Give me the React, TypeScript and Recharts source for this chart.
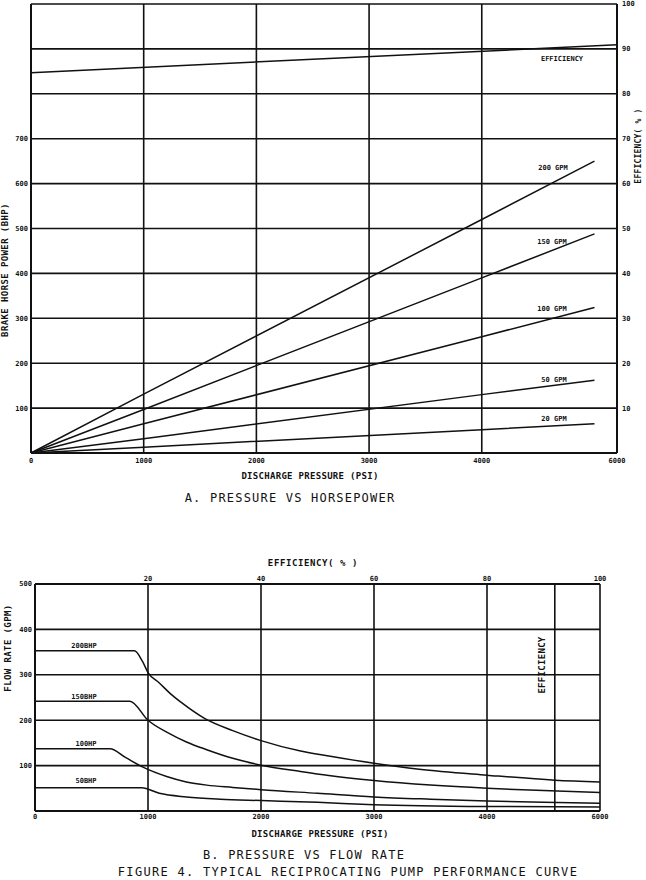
import { CartesianGrid, Line, LineChart, XAxis, YAxis } from "recharts"

const INK = "#111"
const MONO = "'DejaVu Sans Mono', monospace"

// A. pressure vs horsepower
const A_X_TICKS = [0, 1000, 2000, 3000, 4000, 5200]
const A_X_LABELS = ["0", "1000", "2000", "3000", "4000", "6000"]
const A_BHP_TICKS = [0, 100, 200, 300, 400, 500, 600, 700, 800, 900, 1000]
const A_EFF_TICKS = [0, 10, 20, 30, 40, 50, 60, 70, 80, 90, 100]

const A_PRESSURE = [0, 1000, 4000, 5000]
const BHP_200GPM = [0, 131, 520, 650]
const BHP_150GPM = [0, 97, 390, 488]
const BHP_100GPM = [0, 65, 259, 324]
const BHP_50GPM = [0, 32, 130, 162]
const BHP_20GPM = [0, 13, 52, 65]

const EFF_PRESSURE = [0, 5200]
const EFF_VALUES = [84.7, 90.9]

// B. pressure vs flow rate
const B_X_TICKS = [0, 1000, 2000, 3000, 4000, 5000]
const B_X_LABELS = ["0", "1000", "2000", "3000", "4000", "6000"]
const B_EFF_TICKS = [0, 20, 40, 60, 80, 100]
const B_GPM_TICKS = [0, 100, 200, 300, 400, 500]
const B_EFF_LINE_E = [92, 92]
const B_EFF_LINE_GPM = [0, 500]

const P_200BHP = [0, 880, 950, 1000, 1100, 1200, 1300, 1500, 1750, 2000, 2350, 2600, 3000, 3400, 4000, 4600, 5000]
const GPM_200BHP = [353, 353, 330, 305, 282, 258, 238, 204, 177, 155, 132, 121, 105, 92, 79, 68, 64]
const P_150BHP = [0, 840, 1000, 1170, 1340, 1520, 1750, 2000, 2350, 2600, 3000, 3500, 4000, 4500, 5000]
const GPM_150BHP = [242, 242, 200, 173, 152, 135, 116, 101, 87, 78, 67, 57, 50, 45, 41]
const P_100BHP = [0, 664, 800, 960, 1165, 1340, 1520, 1750, 2000, 2500, 3000, 3500, 4000, 4500, 5000]
const GPM_100BHP = [137, 137, 118, 96, 76, 64, 57, 52, 47, 39, 31, 26, 22, 19, 17]
const P_50BHP = [0, 944, 1100, 1340, 1640, 2000, 2500, 3000, 4000, 5000]
const GPM_50BHP = [51, 51, 39, 31, 26, 23, 19, 14, 10, 9]

const pts = (xs: number[], ys: number[]) => xs.map((p, i) => ({ p, v: ys[i] }))

const tickStyle = { fontSize: 7, fontWeight: 700, fill: INK, fontFamily: MONO }
const axisLine = { stroke: INK, strokeWidth: 2 }

function Txt({
  x,
  y,
  size = 7,
  bold = true,
  rotate = 0,
  spacing = 0,
  children,
}: {
  x: number
  y: number
  size?: number
  bold?: boolean
  rotate?: number
  spacing?: number
  children: string
}) {
  return (
    <div
      style={{
        position: "absolute",
        left: x,
        top: y,
        transform: `translate(-50%, -50%) rotate(${rotate}deg)`,
        fontFamily: MONO,
        fontSize: size,
        fontWeight: bold ? 700 : 400,
        letterSpacing: spacing,
        color: INK,
        whiteSpace: "nowrap",
        lineHeight: 1,
      }}
    >
      {children}
    </div>
  )
}

function HorsepowerChart() {
  const series = [
    { name: "200 GPM", data: BHP_200GPM },
    { name: "150 GPM", data: BHP_150GPM },
    { name: "100 GPM", data: BHP_100GPM },
    { name: "50 GPM", data: BHP_50GPM },
    { name: "20 GPM", data: BHP_20GPM },
  ]
  return (
    <div style={{ position: "absolute", left: 0, top: 0 }}>
      <LineChart width={646} height={470} margin={{ top: 4, right: 0, bottom: 0, left: 0 }}>
        <CartesianGrid stroke={INK} strokeWidth={1.6} yAxisId="bhp" />
        <XAxis
          dataKey="p"
          type="number"
          domain={[0, 5200]}
          ticks={A_X_TICKS}
          interval={0}
          height={17}
          tickLine={false}
          tickSize={0}
          tickMargin={5}
          axisLine={axisLine}
          tick={tickStyle}
          tickFormatter={(v) => A_X_LABELS[A_X_TICKS.indexOf(v)]}
        />
        <YAxis
          yAxisId="bhp"
          domain={[0, 1000]}
          ticks={A_BHP_TICKS}
          interval={0}
          width={31}
          tickLine={false}
          tickSize={0}
          tickMargin={3}
          axisLine={axisLine}
          tick={tickStyle}
          tickFormatter={(v) => (v > 0 && v <= 700 ? String(v) : "")}
        />
        <YAxis
          yAxisId="eff"
          orientation="right"
          domain={[0, 100]}
          ticks={A_EFF_TICKS}
          interval={0}
          width={29}
          tickLine={false}
          tickSize={0}
          tickMargin={5}
          axisLine={axisLine}
          tick={tickStyle}
          tickFormatter={(v) => (v === 0 ? "" : String(v))}
        />
        {series.map((s) => (
          <Line
            key={s.name}
            yAxisId="bhp"
            data={pts(A_PRESSURE, s.data)}
            dataKey="v"
            type="linear"
            stroke={INK}
            strokeWidth={1.5}
            dot={false}
            isAnimationActive={false}
          />
        ))}
        <Line
          yAxisId="eff"
          data={pts(EFF_PRESSURE, EFF_VALUES)}
          dataKey="v"
          type="linear"
          stroke={INK}
          strokeWidth={1.5}
          dot={false}
          isAnimationActive={false}
        />
      </LineChart>
    </div>
  )
}

function FlowChart() {
  const series = [
    { name: "200BHP", p: P_200BHP, v: GPM_200BHP },
    { name: "150BHP", p: P_150BHP, v: GPM_150BHP },
    { name: "100HP", p: P_100BHP, v: GPM_100BHP },
    { name: "50BHP", p: P_50BHP, v: GPM_50BHP },
  ]
  const effLine = B_EFF_LINE_E.map((e, i) => ({ e, v: B_EFF_LINE_GPM[i] }))
  return (
    <div style={{ position: "absolute", left: 0, top: 540 }}>
      <LineChart width={646} height={300} margin={{ top: 24, right: 46, bottom: 17, left: 0 }}>
        <CartesianGrid stroke={INK} strokeWidth={1.6} yAxisId="gpm" xAxisId="psi" />
        <XAxis
          xAxisId="psi"
          dataKey="p"
          type="number"
          domain={[0, 5000]}
          ticks={B_X_TICKS}
          interval={0}
          height={12}
          tickLine={false}
          tickSize={0}
          tickMargin={3}
          axisLine={axisLine}
          tick={tickStyle}
          tickFormatter={(v) => B_X_LABELS[B_X_TICKS.indexOf(v)]}
        />
        <XAxis
          xAxisId="eff"
          dataKey="e"
          orientation="top"
          type="number"
          domain={[0, 100]}
          ticks={B_EFF_TICKS}
          interval={0}
          height={20}
          tickLine={false}
          tickSize={0}
          tickMargin={3}
          axisLine={axisLine}
          tick={tickStyle}
          tickFormatter={(v) => (v === 0 ? "" : String(v))}
        />
        <YAxis
          yAxisId="gpm"
          domain={[0, 500]}
          ticks={B_GPM_TICKS}
          interval={0}
          width={35}
          tickLine={false}
          tickSize={0}
          tickMargin={3}
          axisLine={axisLine}
          tick={tickStyle}
          tickFormatter={(v) => (v === 0 ? "" : String(v))}
        />
        <Line
          xAxisId="eff"
          yAxisId="gpm"
          data={effLine}
          dataKey="v"
          type="linear"
          stroke={INK}
          strokeWidth={1.6}
          dot={false}
          isAnimationActive={false}
        />
        {series.map((s) => (
          <Line
            key={s.name}
            xAxisId="psi"
            yAxisId="gpm"
            data={pts(s.p, s.v)}
            dataKey="v"
            type="monotone"
            stroke={INK}
            strokeWidth={1.5}
            dot={false}
            isAnimationActive={false}
          />
        ))}
      </LineChart>
    </div>
  )
}

export default function App() {
  return (
    <div style={{ position: "absolute", left: 0, top: 0, width: 646, height: 880, background: "#fff" }}>
      <HorsepowerChart />
      <FlowChart />

      {/* chart A annotations */}
      <Txt x={5} y={270} size={9} rotate={-90} spacing={0.4}>BRAKE HORSE POWER (BHP)</Txt>
      <Txt x={639} y={146} size={8} rotate={-90} spacing={0.2}>EFFICIENCY( % )</Txt>
      <Txt x={562} y={59}>EFFICIENCY</Txt>
      <Txt x={553} y={168}>200 GPM</Txt>
      <Txt x={552} y={242}>150 GPM</Txt>
      <Txt x={552} y={309}>100 GPM</Txt>
      <Txt x={554} y={380}>50 GPM</Txt>
      <Txt x={554} y={419}>20 GPM</Txt>
      <Txt x={310} y={476} size={9} spacing={0.3}>DISCHARGE PRESSURE (PSI)</Txt>
      <Txt x={290} y={498} size={12} bold={false} spacing={1.2}>A. PRESSURE VS HORSEPOWER</Txt>

      {/* chart B annotations */}
      <Txt x={8} y={648} size={9} rotate={-90} spacing={0.4}>FLOW RATE (GPM)</Txt>
      <Txt x={313} y={563} size={9} spacing={0.6}>EFFICIENCY( % )</Txt>
      <Txt x={542} y={665} size={9} rotate={-90} spacing={0.3}>EFFICIENCY</Txt>
      <Txt x={84} y={646}>200BHP</Txt>
      <Txt x={84} y={697}>150BHP</Txt>
      <Txt x={86} y={744}>100HP</Txt>
      <Txt x={86} y={781}>50BHP</Txt>
      <Txt x={320} y={834} size={9} spacing={0.3}>DISCHARGE PRESSURE (PSI)</Txt>
      <Txt x={304} y={855} size={12} bold={false} spacing={1.2}>B. PRESSURE VS FLOW RATE</Txt>
      <Txt x={348} y={872} size={12} bold={false} spacing={1.3}>FIGURE 4. TYPICAL RECIPROCATING PUMP PERFORMANCE CURVE</Txt>
    </div>
  )
}
